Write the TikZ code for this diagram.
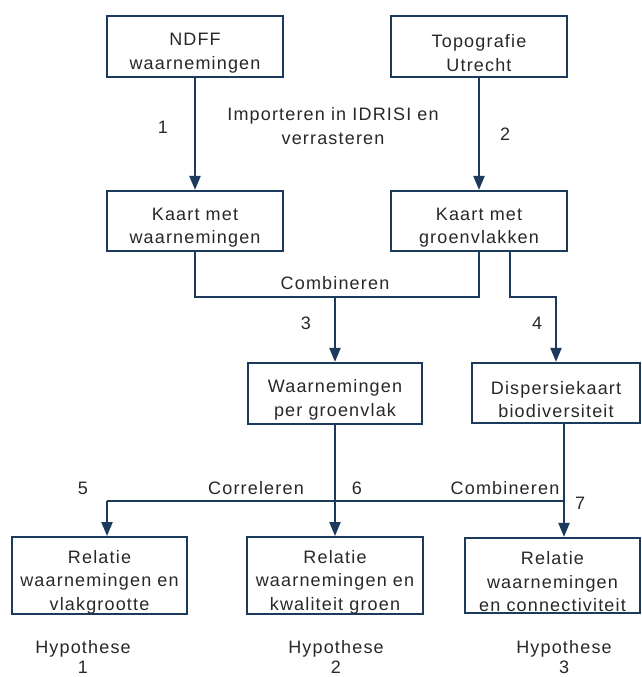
\documentclass[tikz,border=0pt]{standalone}
\usepackage{fontspec}
\setmainfont{Liberation Sans}[LetterSpace=6.5]
\usetikzlibrary{arrows.meta}
\definecolor{navy}{RGB}{28,58,92}
\definecolor{txt}{RGB}{40,40,40}
\newcommand{\topstrut}{\rule{0pt}{26pt}}
\begin{document}
\begin{tikzpicture}[x=1pt,y=-1pt,
  every node/.style={text=txt,font=\fontsize{18}{23.5}\selectfont,align=center,inner sep=0pt},
  box/.style={draw=navy,line width=2.2pt,fill=white},
  conn/.style={draw=navy,line width=2.2pt},
  arr/.style={conn,-{Triangle[length=14pt,width=11pt]}},
  hyp/.style={font=\fontsize{18}{19.5}\selectfont}]
\useasboundingbox[fill=white] (0,0) rectangle (641,677);
% boxes
\node[box,minimum width=176pt,minimum height=61pt] (ndff) at (195,46.5) {\topstrut NDFF\\waarnemingen};
\node[box,minimum width=176pt,minimum height=61pt] (topo) at (479,46.5) {\topstrut Topografie\\Utrecht};
\node[box,minimum width=176pt,minimum height=60pt] (kaartw) at (195,221) {\topstrut Kaart met\\waarnemingen};
\node[box,minimum width=176pt,minimum height=60pt] (kaartg) at (479,221) {\topstrut Kaart met\\groenvlakken};
\node[box,minimum width=174pt,minimum height=61pt] (wpg) at (335,393.5) {\topstrut Waarnemingen\\per groenvlak};
\node[box,minimum width=168pt,minimum height=60pt] (disp) at (556,393) {\topstrut Dispersiekaart\\biodiversiteit};
\node[box,minimum width=175pt,minimum height=75pt] (rel1) at (99.5,575.5) {\topstrut Relatie\\waarnemingen en\\vlakgrootte};
\node[box,minimum width=176pt,minimum height=75pt] (rel2) at (335,575.5) {\topstrut Relatie\\waarnemingen en\\kwaliteit groen};
\node[box,minimum width=175pt,minimum height=75pt] (rel3) at (552.5,575.5) {\topstrut Relatie\\waarnemingen\\en connectiviteit};
% junction coordinates
\coordinate (j3) at (335,297);
\coordinate (s4) at (510,251);
\coordinate (b4) at (556,297);
\coordinate (s7) at (564,423);
\coordinate (j7) at (564,501);
\coordinate (j5) at (107,501);
% connectors
\draw[arr] (ndff) -- (kaartw);
\draw[arr] (topo) -- (kaartg);
\draw[conn] (kaartw.south) |- (j3) -| (kaartg.south);
\draw[arr] (j3) -- (wpg.north);
\draw[arr] (s4) |- (b4) -- (disp.north);
\draw[arr] (wpg.south) -- (rel2.north);
\draw[arr] (s7) -- (s7 |- rel3.north);
\draw[conn] (j7) -- (j5);
\draw[arr] (j5) -- (j5 |- rel1.north);
% labels
\node (l1) at (163,127) {1};
\node (l2) at (505,134) {2};
\node (limp) at (333,126) {Importeren in IDRISI en\\verrasteren};
\node (lcomb1) at (335,283) {Combineren};
\node (l3) at (306,323) {3};
\node (l4) at (537,323) {4};
\node (l5) at (83,488) {5};
\node (lcor) at (256,488) {Correleren};
\node (l6) at (357,488) {6};
\node (lcomb2) at (505,488) {Combineren};
\node (l7) at (580,503) {7};
\node[hyp] (h1) at (83,657) {Hypothese\\1};
\node[hyp] (h2) at (336,657) {Hypothese\\2};
\node[hyp] (h3) at (564,657) {Hypothese\\3};
\end{tikzpicture}
\end{document}
